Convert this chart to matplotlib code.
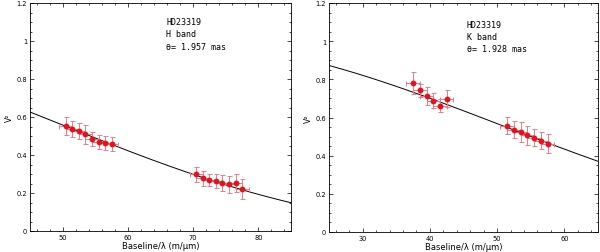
import numpy as np
import matplotlib
matplotlib.use("Agg")
import matplotlib.pyplot as plt
from matplotlib.ticker import MultipleLocator

# ---- data ----
h_x = [50.5, 51.5, 52.5, 53.5, 54.5, 55.5, 56.5, 57.5,
       70.5, 71.5, 72.5, 73.5, 74.5, 75.5, 76.5, 77.5]
h_y = [0.553, 0.537, 0.527, 0.508, 0.485, 0.467, 0.463, 0.458,
       0.298, 0.278, 0.268, 0.262, 0.252, 0.245, 0.252, 0.222]
h_yerr = [0.047, 0.042, 0.042, 0.048, 0.038, 0.036, 0.037, 0.038,
          0.040, 0.040, 0.033, 0.038, 0.043, 0.047, 0.048, 0.053]
h_xerr = [1.0] * 16
h_theta = 1.957

k_x = [37.5, 38.5, 39.5, 40.5, 41.5, 42.5,
       51.5, 52.5, 53.5, 54.5, 55.5, 56.5, 57.5]
k_y = [0.779, 0.742, 0.713, 0.689, 0.662, 0.698,
       0.558, 0.535, 0.524, 0.506, 0.495, 0.479, 0.463]
k_yerr = [0.057, 0.035, 0.045, 0.038, 0.035, 0.045,
          0.045, 0.045, 0.055, 0.048, 0.045, 0.045, 0.048]
k_xerr = [1.0] * 13
k_theta = 1.928

panels = [
    dict(x=h_x, y=h_y, xe=h_xerr, ye=h_yerr, theta=h_theta, band="H band",
         xlim=(45, 85), txt=(65.9, 1.125)),
    dict(x=k_x, y=k_y, xe=k_xerr, ye=k_yerr, theta=k_theta, band="K band",
         xlim=(25, 65), txt=(45.5, 1.110)),
]


def j1(z):
    tau = np.linspace(0, np.pi, 801)
    integrand = np.cos(tau[None, :] - z[:, None] * np.sin(tau[None, :]))
    return np.trapezoid(integrand, tau, axis=1) / np.pi


def ud_v2(bl, theta_mas):
    z = np.pi * theta_mas * np.pi / 180 / 3600 / 1000 * bl * 1e6
    return (2 * j1(z) / z) ** 2


plt.rcParams['font.family'] = ['DejaVu Sans']
fig = plt.figure(figsize=(6.0, 2.53), dpi=100)
rects = [[30/600, 21/253, 261/600, 228/253],
         [329/600, 20/253, 269/600, 229/253]]

for p, r in zip(panels, rects):
    ax = fig.add_axes(r)
    xs = np.linspace(p['xlim'][0], p['xlim'][1], 400)
    ax.plot(xs, ud_v2(xs, p['theta']), color='black', lw=0.7, zorder=2)
    ax.errorbar(p['x'], p['y'], xerr=p['xe'], yerr=p['ye'], fmt='o',
                color='#e8101c', ms=3.2, ecolor='#f07a80', elinewidth=0.7,
                capsize=1.8, capthick=0.7, zorder=3)
    ax.set_xlim(*p['xlim'])
    ax.set_ylim(0, 1.2)
    ax.xaxis.set_major_locator(MultipleLocator(10))
    ax.xaxis.set_minor_locator(MultipleLocator(2))
    ax.yaxis.set_major_locator(MultipleLocator(0.2))
    ax.yaxis.set_minor_locator(MultipleLocator(0.05))
    ax.set_yticks([0, 0.2, 0.4, 0.6, 0.8, 1.0, 1.2])
    ax.set_yticklabels(['0', '0.2', '0.4', '0.6', '0.8', '1', '1.2'])
    ax.tick_params(which='both', direction='in', top=True, right=True,
                   labelsize=4.8, width=0.5, pad=2)
    ax.tick_params(which='major', length=3)
    ax.tick_params(which='minor', length=1.5)
    for s in ax.spines.values():
        s.set_linewidth(0.6)
    ax.set_xlabel('Baseline/λ (m/µm)', fontsize=6, labelpad=1)
    ax.set_ylabel('V²', fontsize=5.5, labelpad=2)
    tx, ty = p['txt']
    ax.text(tx, ty, 'HD23319\n' + p['band'] + '\nθ= %.3f mas' % p['theta'],
            fontsize=6, va='top', ha='left', linespacing=1.45,
            family='DejaVu Sans Mono')

fig.savefig('out.png', dpi=100)
